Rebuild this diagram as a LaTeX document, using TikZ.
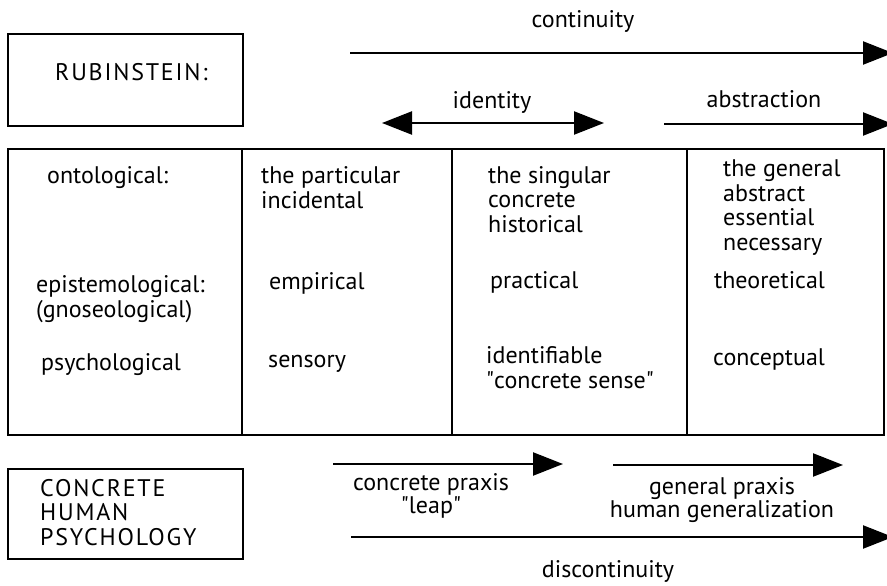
\documentclass[tikz,border=0pt]{standalone}
\usepackage{fontspec}
\setmainfont{PT Sans}
\newfontfamily\capsfont[LetterSpace=7.5]{PT Sans}
\usetikzlibrary{arrows.meta}
\begin{document}
\begin{tikzpicture}[x=1pt,y=-1pt,
  box/.style={draw, line width=2pt, inner sep=0pt},
  rule/.style={line width=2pt},
  txt/.style={inner sep=0pt, anchor=base west, align=left, font=\fontsize{24}{24.5}\selectfont},
  captxt/.style={inner sep=0pt, anchor=base west, align=left, font=\capsfont\fontsize{24}{24.5}\selectfont},
  ctxt/.style={inner sep=0pt, anchor=base, align=center, font=\fontsize{24}{23}\selectfont},
  arr/.style={line width=2.3pt, -{Triangle[length=30pt,width=23pt]}},
  darr/.style={line width=2.3pt, {Triangle[length=30pt,width=23pt]}-{Triangle[length=30pt,width=23pt]}}]
\useasboundingbox (0,0) rectangle (887,586);
\clip (0,0) rectangle (887,586);
% boxes
\node (rub) [box, minimum width=235pt, minimum height=92pt] at (125.5,80) {};
\node (rubt) [captxt] at (55,81) {RUBINSTEIN:};
\node (chp) [box, minimum width=235pt, minimum height=90pt] at (125.5,514) {};
\node (chpt) [captxt] at (40,545) {CONCRETE\\HUMAN\\PSYCHOLOGY};
% table
\node (tab) [box, minimum width=876pt, minimum height=286pt] at (446,292) {};
\draw[rule] (242,149) -- (242,435);
\draw[rule] (452,149) -- (452,435);
\draw[rule] (687,149) -- (687,435);
% column 1
\node (onto) [txt] at (47,183) {ontological:};
\node (epis) [txt] at (36,317) {epistemological:\\(gnoseological)};
\node (psy) [txt] at (41,370) {psychological};
% column 2
\node (part) [txt] at (261,208) {the particular\\incidental};
\node (emp) [txt] at (269,289) {empirical};
\node (sens) [txt] at (268,367) {sensory};
% column 3
\node (sing) [txt] at (488,232) {the singular\\concrete\\historical};
\node (prac) [txt] at (490,288) {practical};
\node (ident) [txt] at (486,388) {identifiable\\\textquotedbl concrete sense\textquotedbl};
% column 4
\node (gen) [txt] at (723,250) {the general\\abstract\\essential\\necessary};
\node (theo) [txt] at (714,288) {theoretical};
\node (conc) [txt] at (713,365) {conceptual};
% top arrows
\coordinate (c1) at (350,53);
\coordinate (c2) at (893,53);
\draw[arr] (c1) -- (c2);
\node (cont) [ctxt] at (583,28) {continuity};
\coordinate (i1) at (382,123);
\coordinate (i2) at (604,123);
\draw[darr] (i1) -- (i2);
\node (iden) [ctxt] at (492,108) {identity};
\coordinate (a1) at (664,124);
\coordinate (a2) at (893,124);
\draw[arr] (a1) -- (a2);
\node (abst) [ctxt] at (764,107) {abstraction};
% bottom arrows
\coordinate (p1) at (333,464);
\coordinate (p2) at (563,464);
\draw[arr] (p1) -- (p2);
\node (cpr) [ctxt] at (431,513) {concrete praxis\\\textquotedbl leap\textquotedbl};
\coordinate (g1) at (613,465);
\coordinate (g2) at (843,465);
\draw[arr] (g1) -- (g2);
\node (gpr) [ctxt] at (722,517) {general praxis\\human generalization};
\coordinate (d1) at (351,537);
\coordinate (d2) at (893,537);
\draw[arr] (d1) -- (d2);
\node (disc) [ctxt] at (608,577) {discontinuity};
\end{tikzpicture}
\end{document}
